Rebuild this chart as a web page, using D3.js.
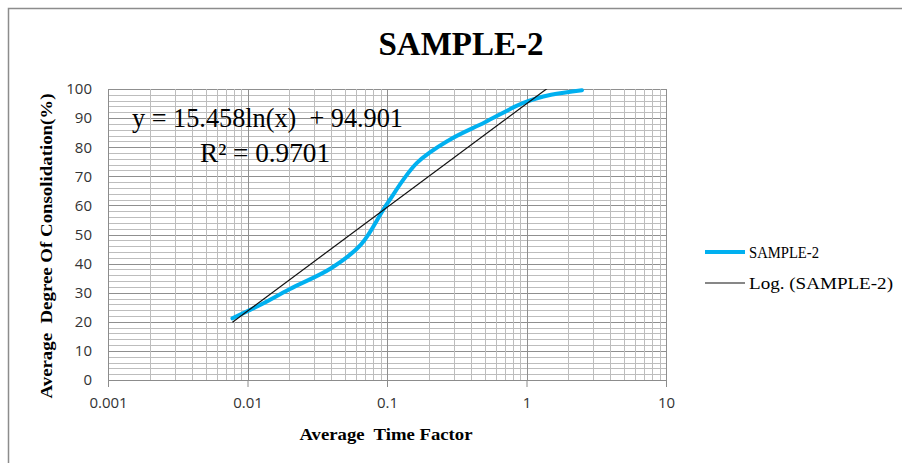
<!DOCTYPE html>
<html>
<head>
<meta charset="utf-8">
<script src="https://cdn.jsdelivr.net/npm/d3@7"></script>
<style>
  body { margin: 0; background: #fff; }
  svg { display: block; }
</style>
</head>
<body>
<div id="chart"></div>
<script>
  // values
  const timeFactor = [0.0078, 0.012, 0.02, 0.04, 0.065, 0.1, 0.164, 0.28, 0.5, 0.95, 1.5, 2.5];
  const consolidation = [21.2, 25.5, 31.2, 38.5, 46.5, 60.5, 74.6, 82.5, 88.5, 95.2, 98, 99.6];
  const xTicks = [0.001, 0.01, 0.1, 1, 10];
  const yTicks = [0, 10, 20, 30, 40, 50, 60, 70, 80, 90, 100];
  // Log trendline from the chart: y = a ln(x) + b
  const trendA = 15.458;
  const trendB = 94.901;
  const trendR2 = "0.9701";

  const width = 902, height = 463;
  const plot = { left: 108, right: 666, top: 89, bottom: 380 };

  const svg = d3.select("#chart").append("svg")
    .attr("width", width)
    .attr("height", height);

  // outer chart border
  svg.append("rect")
    .attr("x", 8.5).attr("y", 8.5)
    .attr("width", width + 10).attr("height", height + 10)
    .attr("fill", "#fff")
    .attr("stroke", "#8c8c8c")
    .attr("stroke-width", 1.5);

  const x = d3.scaleLog().domain([0.001, 10]).range([plot.left, plot.right]);
  const y = d3.scaleLinear().domain([0, 100]).range([plot.bottom, plot.top]);

  const grid = svg.append("g");

  // horizontal minor lines every 2
  const yMinor = d3.range(0, 101, 2);
  grid.selectAll("line.hy")
    .data(yMinor)
    .join("line")
    .attr("x1", plot.left).attr("x2", plot.right)
    .attr("y1", d => Math.round(y(d)) + 0.5).attr("y2", d => Math.round(y(d)) + 0.5)
    .attr("stroke", d => d % 10 === 0 ? "#8f8f8f" : "#bdbdbd")
    .attr("stroke-width", 1);

  // vertical lines, 1..9 per decade
  const xMinor = [];
  for (let e = -3; e < 1; e++) {
    for (let m = 1; m < 10; m++) xMinor.push(m * Math.pow(10, e));
  }
  xMinor.push(10);
  grid.selectAll("line.vx")
    .data(xMinor)
    .join("line")
    .attr("x1", d => Math.round(x(d)) + 0.5).attr("x2", d => Math.round(x(d)) + 0.5)
    .attr("y1", plot.top).attr("y2", plot.bottom)
    .attr("stroke", (d, i) => i % 9 === 0 ? "#8f8f8f" : "#bdbdbd")
    .attr("stroke-width", 1);

  // x axis with outside ticks
  const xAxis = svg.append("g")
    .attr("transform", `translate(0,${plot.bottom})`)
    .call(d3.axisBottom(x).tickValues(xTicks).tickSize(7).tickPadding(10)
      .tickFormat(d => String(d)));
  xAxis.select(".domain").attr("stroke", "#8c8c8c");
  xAxis.selectAll(".tick line").attr("stroke", "#8c8c8c");
  xAxis.selectAll("text")
    .attr("font-family", "Open Sans, sans-serif")
    .attr("font-size", 15)
    .attr("fill", "#333");

  const yAxis = svg.append("g")
    .attr("transform", `translate(${plot.left},0)`)
    .call(d3.axisLeft(y).tickValues(yTicks).tickSize(0).tickPadding(16));
  yAxis.select(".domain").attr("stroke", "#8c8c8c");
  yAxis.selectAll("text")
    .attr("font-family", "Open Sans, sans-serif")
    .attr("font-size", 15)
    .attr("fill", "#333");

  // clip for the series
  svg.append("clipPath").attr("id", "plot-clip")
    .append("rect")
    .attr("x", plot.left).attr("y", plot.top)
    .attr("width", plot.right - plot.left).attr("height", plot.bottom - plot.top);

  const series = timeFactor.map((t, i) => [t, consolidation[i]]);

  const line = d3.line()
    .x(d => x(d[0]))
    .y(d => y(d[1]))
    .curve(d3.curveCatmullRom.alpha(0.5));

  svg.append("path")
    .datum(series)
    .attr("d", line)
    .attr("fill", "none")
    .attr("stroke", "#00b0f0")
    .attr("stroke-width", 4)
    .attr("stroke-linecap", "round");

  // trendline over data range, straight in log x
  const xMin = d3.min(timeFactor), xMax = d3.max(timeFactor);
  const trend = [xMin, xMax].map(t => [t, trendA * Math.log(t) + trendB]);
  svg.append("path")
    .datum(trend)
    .attr("clip-path", "url(#plot-clip)")
    .attr("d", d3.line().x(d => x(d[0])).y(d => y(d[1])))
    .attr("fill", "none")
    .attr("stroke", "#111")
    .attr("stroke-width", 1.2);

  // title
  svg.append("text")
    .attr("x", 461).attr("y", 55)
    .attr("text-anchor", "middle")
    .attr("font-family", "Liberation Serif, serif")
    .attr("font-weight", "bold")
    .attr("font-size", 33)
    .text("SAMPLE-2");

  // equation
  svg.append("text")
    .attr("x", 132).attr("y", 127)
    .attr("font-family", "Liberation Serif, serif")
    .attr("font-size", 27)
    .attr("textLength", 271)
    .attr("lengthAdjust", "spacingAndGlyphs")
    .text(`y = ${trendA}ln(x)\u00a0 + ${trendB}`);

  svg.append("text")
    .attr("x", 200).attr("y", 162)
    .attr("font-family", "Liberation Serif, serif")
    .attr("font-size", 27)
    .attr("textLength", 130)
    .attr("lengthAdjust", "spacingAndGlyphs")
    .text("R² = " + trendR2);

  // axis titles
  svg.append("text")
    .attr("transform", "translate(52,246) rotate(-90)")
    .attr("text-anchor", "middle")
    .attr("font-family", "Liberation Serif, serif")
    .attr("font-weight", "bold")
    .attr("font-size", 17)
    .attr("textLength", 305)
    .attr("lengthAdjust", "spacingAndGlyphs")
    .text("Average\u00a0 Degree Of Consolidation(%)");

  svg.append("text")
    .attr("x", 386).attr("y", 440)
    .attr("text-anchor", "middle")
    .attr("font-family", "Liberation Serif, serif")
    .attr("font-weight", "bold")
    .attr("font-size", 17)
    .attr("textLength", 173)
    .attr("lengthAdjust", "spacingAndGlyphs")
    .text("Average\u00a0 Time Factor");

  // legend
  const legendItems = [
    { label: "SAMPLE-2", color: "#00b0f0", w: 4, len: 70 },
    { label: "Log. (SAMPLE-2)", color: "#111", w: 1.2, len: 144 }
  ];
  const legend = svg.append("g").attr("transform", "translate(705,252)");
  const li = legend.selectAll("g")
    .data(legendItems)
    .join("g")
    .attr("transform", (d, i) => `translate(0,${i * 31})`);
  li.append("line")
    .attr("x1", 0).attr("x2", 40)
    .attr("stroke", d => d.color)
    .attr("stroke-width", d => d.w);
  li.append("text")
    .attr("x", 44).attr("y", 6)
    .attr("font-family", "Liberation Serif, serif")
    .attr("font-size", 17)
    .attr("textLength", d => d.len)
    .attr("lengthAdjust", "spacingAndGlyphs")
    .text(d => d.label);
</script>
</body>
</html>
